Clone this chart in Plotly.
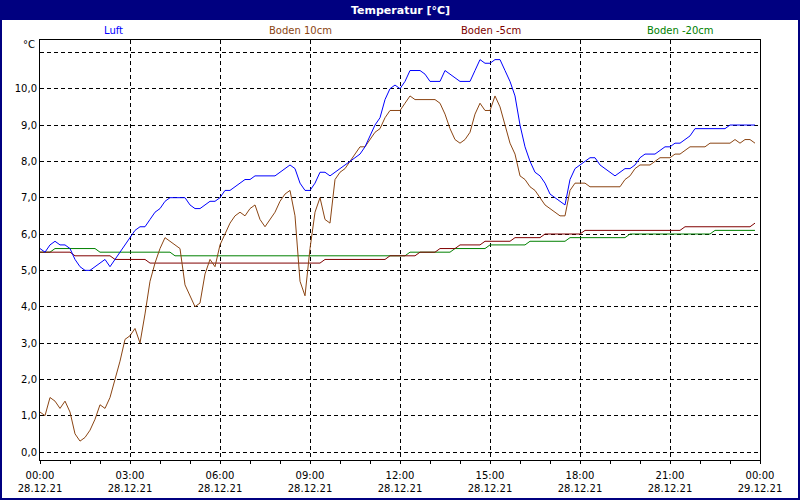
import pandas as pd
import plotly.graph_objects as go

# 10-minute readings, 28.12.21 00:00 .. 23:50
times = pd.date_range("2021-12-28 00:00", periods=144, freq="10min")

luft = [5.6, 5.5, 5.7, 5.8, 5.7, 5.7, 5.6, 5.3, 5.1, 5.0, 5.0, 5.1,
        5.2, 5.3, 5.1, 5.3, 5.5, 5.7, 5.9, 6.1, 6.2, 6.2, 6.4, 6.6,
        6.7, 6.9, 7.0, 7.0, 7.0, 7.0, 6.8, 6.7, 6.7, 6.8, 6.9, 6.9,
        7.0, 7.2, 7.2, 7.3, 7.4, 7.5, 7.5, 7.6, 7.6, 7.6, 7.6, 7.6,
        7.7, 7.8, 7.9, 7.8, 7.4, 7.2, 7.2, 7.4, 7.7, 7.7, 7.6, 7.7,
        7.8, 7.9, 8.0, 8.1, 8.2, 8.4, 8.7, 9.0, 9.2, 9.7, 10.0, 10.1,
        10.0, 10.2, 10.5, 10.5, 10.5, 10.4, 10.2, 10.2, 10.2, 10.5, 10.4, 10.3,
        10.2, 10.2, 10.2, 10.5, 10.8, 10.7, 10.7, 10.8, 10.8, 10.5, 10.2, 9.8,
        9.0, 8.4, 8.0, 7.7, 7.6, 7.4, 7.1, 7.0, 6.9, 6.8, 7.5, 7.8,
        7.9, 8.0, 8.1, 8.1, 7.9, 7.8, 7.7, 7.6, 7.7, 7.8, 7.8, 7.9,
        8.1, 8.2, 8.2, 8.2, 8.3, 8.4, 8.4, 8.5, 8.5, 8.6, 8.7, 8.9,
        8.9, 8.9, 8.9, 8.9, 8.9, 8.9, 9.0, 9.0, 9.0, 9.0, 9.0, 9.0]

boden_10 = [1.1, 1.0, 1.5, 1.4, 1.2, 1.4, 1.1, 0.5, 0.3, 0.4, 0.6, 0.9,
            1.3, 1.2, 1.5, 2.0, 2.5, 3.1, 3.2, 3.4, 3.0, 3.8, 4.7, 5.2,
            5.6, 5.9, 5.8, 5.7, 5.6, 4.6, 4.3, 4.0, 4.1, 4.9, 5.3, 5.1,
            5.7, 6.0, 6.3, 6.5, 6.6, 6.5, 6.7, 6.8, 6.4, 6.2, 6.4, 6.6,
            6.9, 7.1, 7.2, 6.5, 4.7, 4.3, 5.6, 6.6, 7.0, 6.4, 6.3, 7.5,
            7.7, 7.8, 8.0, 8.2, 8.4, 8.4, 8.6, 8.8, 8.9, 9.2, 9.4, 9.4,
            9.4, 9.6, 9.8, 9.7, 9.7, 9.7, 9.7, 9.7, 9.6, 9.3, 8.9, 8.6,
            8.5, 8.6, 8.8, 9.3, 9.6, 9.4, 9.4, 9.8, 9.5, 9.0, 8.5, 8.2,
            7.6, 7.5, 7.3, 7.2, 7.0, 6.8, 6.7, 6.6, 6.5, 6.5, 7.2, 7.4,
            7.4, 7.4, 7.3, 7.3, 7.3, 7.3, 7.3, 7.3, 7.3, 7.5, 7.6, 7.8,
            7.9, 7.9, 7.9, 8.0, 8.1, 8.1, 8.1, 8.2, 8.2, 8.3, 8.4, 8.4,
            8.4, 8.4, 8.5, 8.5, 8.5, 8.5, 8.5, 8.6, 8.5, 8.6, 8.6, 8.5]

boden_m5 = [5.5, 5.5, 5.5, 5.5, 5.5, 5.5, 5.5, 5.4, 5.4, 5.4, 5.4, 5.4,
            5.4, 5.4, 5.4, 5.3, 5.3, 5.3, 5.3, 5.3, 5.3, 5.3, 5.2, 5.2,
            5.2, 5.2, 5.2, 5.2, 5.2, 5.2, 5.2, 5.2, 5.2, 5.2, 5.2, 5.2,
            5.2, 5.2, 5.2, 5.2, 5.2, 5.2, 5.2, 5.2, 5.2, 5.2, 5.2, 5.2,
            5.2, 5.2, 5.2, 5.2, 5.2, 5.2, 5.2, 5.2, 5.2, 5.3, 5.3, 5.3,
            5.3, 5.3, 5.3, 5.3, 5.3, 5.3, 5.3, 5.3, 5.3, 5.3, 5.4, 5.4,
            5.4, 5.4, 5.4, 5.4, 5.5, 5.5, 5.5, 5.5, 5.6, 5.6, 5.6, 5.6,
            5.7, 5.7, 5.7, 5.7, 5.7, 5.8, 5.8, 5.8, 5.8, 5.8, 5.8, 5.9,
            5.9, 5.9, 5.9, 5.9, 5.9, 6.0, 6.0, 6.0, 6.0, 6.0, 6.0, 6.0,
            6.0, 6.1, 6.1, 6.1, 6.1, 6.1, 6.1, 6.1, 6.1, 6.1, 6.1, 6.1,
            6.1, 6.1, 6.1, 6.1, 6.1, 6.1, 6.1, 6.1, 6.1, 6.2, 6.2, 6.2,
            6.2, 6.2, 6.2, 6.2, 6.2, 6.2, 6.2, 6.2, 6.2, 6.2, 6.2, 6.3]

boden_m20 = [5.5, 5.5, 5.5, 5.6, 5.6, 5.6, 5.6, 5.6, 5.6, 5.6, 5.6, 5.6,
             5.5, 5.5, 5.5, 5.5, 5.5, 5.5, 5.5, 5.5, 5.5, 5.5, 5.5, 5.5,
             5.5, 5.5, 5.5, 5.4, 5.4, 5.4, 5.4, 5.4, 5.4, 5.4, 5.4, 5.4,
             5.4, 5.4, 5.4, 5.4, 5.4, 5.4, 5.4, 5.4, 5.4, 5.4, 5.4, 5.4,
             5.4, 5.4, 5.4, 5.4, 5.4, 5.4, 5.4, 5.4, 5.4, 5.4, 5.4, 5.4,
             5.4, 5.4, 5.4, 5.4, 5.4, 5.4, 5.4, 5.4, 5.4, 5.4, 5.4, 5.4,
             5.4, 5.4, 5.5, 5.5, 5.5, 5.5, 5.5, 5.5, 5.5, 5.5, 5.5, 5.6,
             5.6, 5.6, 5.6, 5.6, 5.6, 5.6, 5.7, 5.7, 5.7, 5.7, 5.7, 5.7,
             5.7, 5.7, 5.8, 5.8, 5.8, 5.8, 5.8, 5.8, 5.8, 5.8, 5.9, 5.9,
             5.9, 5.9, 5.9, 5.9, 5.9, 5.9, 5.9, 5.9, 5.9, 5.9, 6.0, 6.0,
             6.0, 6.0, 6.0, 6.0, 6.0, 6.0, 6.0, 6.0, 6.0, 6.0, 6.0, 6.0,
             6.0, 6.0, 6.0, 6.1, 6.1, 6.1, 6.1, 6.1, 6.1, 6.1, 6.1, 6.1]

series_names = ["Luft", "Boden 10cm", "Boden -5cm", "Boden -20cm"]
series_colors = ["#0000FF", "#8B4513", "#800000", "#008000"]

x_tickvals = pd.date_range("2021-12-28 00:00", periods=9, freq="3h")
x_ticktext = ["00:00<br>28.12.21", "03:00<br>28.12.21", "06:00<br>28.12.21",
              "09:00<br>28.12.21", "12:00<br>28.12.21", "15:00<br>28.12.21",
              "18:00<br>28.12.21", "21:00<br>28.12.21", "00:00<br>29.12.21"]
y_tickvals = [0, 1, 2, 3, 4, 5, 6, 7, 8, 9, 10, 11]
y_ticktext = ["0,0", "1,0", "2,0", "3,0", "4,0", "5,0", "6,0", "7,0",
              "8,0", "9,0", "10,0", ""]

FONT = "DejaVu Sans"
W, H = 800, 500
L, R, T, B = 40, 40, 40, 40
PW, PH = W - L - R, H - T - B


def px(xp):
    return (xp - L) / PW


def py(yp):
    return (H - B - yp) / PH


fig = go.Figure()
# draw green, red, brown, blue (blue on top)
for vals, name, col in [(boden_m20, series_names[3], series_colors[3]),
                        (boden_m5, series_names[2], series_colors[2]),
                        (boden_10, series_names[1], series_colors[1]),
                        (luft, series_names[0], series_colors[0])]:
    fig.add_trace(go.Scatter(x=times, y=vals, mode="lines", name=name,
                             line=dict(color=col, width=1), showlegend=False))

fig.update_layout(
    width=W, height=H,
    margin=dict(l=L, r=R, t=T, b=B, autoexpand=False),
    paper_bgcolor="white", plot_bgcolor="white",
    font=dict(family=FONT, size=10, color="black"),
    showlegend=False,
)

fig.update_xaxes(
    type="date",
    range=["2021-12-28 00:00", "2021-12-29 00:00"],
    tickmode="array", tickvals=x_tickvals, ticktext=x_ticktext,
    ticks="outside", ticklen=3, tickcolor="black", ticklabelstandoff=3,
    showgrid=True, gridcolor="black", gridwidth=1, griddash="4px,3px",
    showline=True, linecolor="black", linewidth=1, mirror=True,
    zeroline=False, automargin=False,
    minor=dict(dtick=3600000, ticks="outside", ticklen=3, tickcolor="black", showgrid=False),
    tickfont=dict(family=FONT, size=10, color="black"),
)
fig.update_yaxes(
    range=[-0.22, 11.34],
    tickmode="array", tickvals=y_tickvals, ticktext=y_ticktext,
    ticks="", showgrid=True, gridcolor="black", gridwidth=1, griddash="4px,3px",
    showline=True, linecolor="black", linewidth=1, mirror=True,
    zeroline=False, automargin=False,
    tickfont=dict(family=FONT, size=10, color="black"),
)

shapes = [
    # title bar
    dict(type="rect", xref="paper", yref="paper",
         x0=px(0), x1=px(800), y0=py(20), y1=py(0),
         fillcolor="#000080", line=dict(width=0), layer="above"),
    # outer frame
    dict(type="rect", xref="paper", yref="paper",
         x0=px(1), x1=px(799), y0=py(499), y1=py(1),
         line=dict(color="#000080", width=2), fillcolor="rgba(0,0,0,0)", layer="above"),
]
fig.update_layout(shapes=shapes)

annotations = [
    dict(text="<b>Temperatur [°C]</b>", xref="paper", yref="paper",
         x=px(400), y=py(10), xanchor="center", yanchor="middle",
         showarrow=False, font=dict(family=FONT, size=11, color="white")),
    dict(text="°C", xref="paper", yref="paper", x=px(37), y=py(45),
         xanchor="right", yanchor="middle", showarrow=False,
         font=dict(family=FONT, size=10, color="black")),
]
legend_x = [113, 300, 491, 680]
for name, col, xc in zip(series_names, series_colors, legend_x):
    annotations.append(dict(text=name, xref="paper", yref="paper",
                            x=px(xc), y=py(30), xanchor="center", yanchor="middle",
                            showarrow=False, font=dict(family=FONT, size=10, color=col)))
fig.update_layout(annotations=annotations)

fig.write_html("out.html", config={"displayModeBar": False},
               post_script="document.body.style.margin='0';document.body.style.overflow='hidden';")
